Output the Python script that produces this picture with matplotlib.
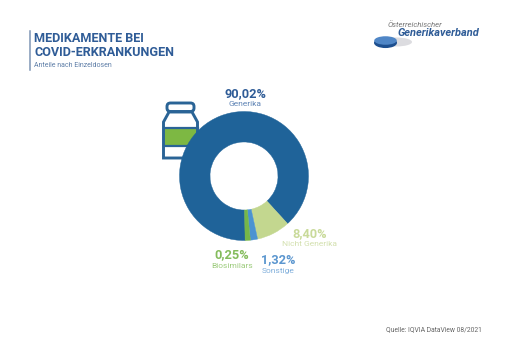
import matplotlib
matplotlib.use("Agg")
import matplotlib.pyplot as plt
from matplotlib.patches import FancyBboxPatch, Rectangle, Polygon, Ellipse

plt.rcParams['font.family'] = ['Roboto', 'DejaVu Sans']

categories = ["Generika", "Nicht Generika", "Sonstige", "Biosimilars"]
value_labels = ["90,02%", "8,40%", "1,32%", "0,25%"]
# arc shares as drawn in the picture
shares = [88.5, 8.4, 1.8, 1.3]
colors = ["#1F6399", "#C3D78F", "#4B93D1", "#76B648"]
label_colors = ["#2F5C97", "#C9DA9A", "#5B96CF", "#84BC5C"]
sub_colors = ["#5F84B5", "#D3E0AE", "#7FAEDB", "#9CCB7C"]

fig = plt.figure(figsize=(5.12, 3.62), dpi=100, facecolor="white")
ax = fig.add_axes([0, 0, 1, 1])

# bottle icon
navy = "#2A6496"
ax.add_patch(Rectangle((164, 128), 33, 18, fc="#7DB843", ec="none", zorder=1))
ax.add_patch(FancyBboxPatch((167, 103), 27, 8.5, boxstyle="round,pad=0,rounding_size=3.5",
                            fc="white", ec=navy, lw=2.1, zorder=2))
ax.add_patch(Polygon([(169, 112), (192, 112), (197.5, 122), (197.5, 158), (163.5, 158), (163.5, 122)],
                     closed=True, fc="none", ec=navy, lw=2.1, zorder=2))
ax.plot([164, 198], [127.5, 127.5], color=navy, lw=1.6, zorder=2)
ax.plot([164, 198], [146, 146], color=navy, lw=1.6, zorder=2)

# donut
wedges, _ = ax.pie(shares, colors=colors, center=(244, 176), radius=64.5, startangle=89,
                   counterclock=True, frame=True,
                   wedgeprops=dict(width=30.5, linewidth=0.3, zorder=3))
for w, c in zip(wedges, colors):
    w.set_edgecolor(c)

# title block
ax.plot([29.5, 29.5], [31, 70], color="#7F96B5", lw=1.1)
ax.text(34.5, 38.8, "MEDIKAMENTE BEI", fontsize=9.1, fontweight="bold", color="#2F5C97", va="center", ha="left")
ax.text(34.5, 52.2, "COVID-ERKRANKUNGEN", fontsize=9.1, fontweight="bold", color="#2F5C97", va="center", ha="left")
ax.text(34.5, 65.5, "Anteile nach Einzeldosen", fontsize=5.0, color="#5F7FA8", va="center", ha="left")

# value labels
label_pos = [(245, 94, 104), (310, 234, 244), (278, 260, 271), (232, 255, 266)]
for name, val, (x, y1, y2), c1, c2 in zip(categories, value_labels, label_pos, label_colors, sub_colors):
    ax.text(x, y1, val, fontsize=9.2, fontweight="bold", color=c1, ha="center", va="center")
    ax.text(x, y2, name, fontsize=6.0, color=c2, ha="center", va="center")

# source
ax.text(386, 330, "Quelle: IQVIA DataView 08/2021", fontsize=4.9, color="#666666", ha="left", va="center")

# logo
ax.add_patch(Ellipse((396, 42), 32, 9, fc="#DCDCE0", ec="none", zorder=1))
ax.add_patch(Ellipse((385.5, 42.8), 23, 10.5, fc="#1D4F8F", ec="none", zorder=2))
ax.add_patch(Ellipse((385.5, 40.5), 22.5, 8.5, fc="#4F86C6", ec="none", zorder=3))
ax.text(387.5, 25, "Österreichischer", fontsize=5.6, style="italic", color="#777777", ha="left", va="center")
ax.text(398, 33, "Generikaverband", fontsize=7.9, style="italic", fontweight="bold", color="#2F5C97", ha="left", va="center")

ax.set_xlim(0, 512)
ax.set_ylim(362, 0)
ax.set_aspect("auto")
ax.axis("off")
fig.savefig("out.png", dpi=100, facecolor="white")
